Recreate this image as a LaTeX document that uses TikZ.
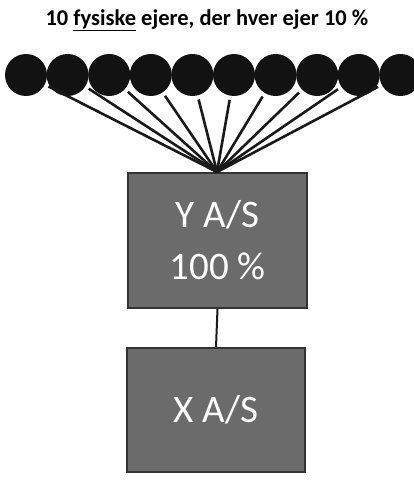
\documentclass[tikz,border=0pt]{standalone}
\usepackage{fontspec}
\setmainfont{Carlito}
\begin{document}
\begin{tikzpicture}[x=1pt,y=-1pt,
  owner/.style={circle,fill=black!93,minimum size=42pt,inner sep=0pt},
  company/.style={draw=black!80,line width=2pt,fill=black!58,text=white,inner sep=0pt,font=\fontsize{39}{52}\selectfont,align=center},
  link/.style={line width=2.6pt,black!90}]
\useasboundingbox (0,0) rectangle (414,481);
\node[font=\bfseries\fontsize{22.5}{26}\selectfont] (title) at (207,20) {10 \underline{fysiske} ejere, der hver ejer 10 \%};
\foreach \i in {0,...,9}{
  \node[owner] (o\i) at ({26+41.6*\i},75) {};
}
\node[company,minimum width=179pt,minimum height=135pt] (y) at (217.5,240.5) {Y A/S\\100 \%};
\node[company,minimum width=178pt,minimum height=124pt] (x) at (216,410) {X A/S};
\coordinate (top) at (217,172);
\foreach \i in {0,...,9}{
  \draw[link,shorten <=4pt] (o\i) -- (top);
}
\draw[link,line width=2pt] (y.south) -- (x.north);
\end{tikzpicture}
\end{document}
